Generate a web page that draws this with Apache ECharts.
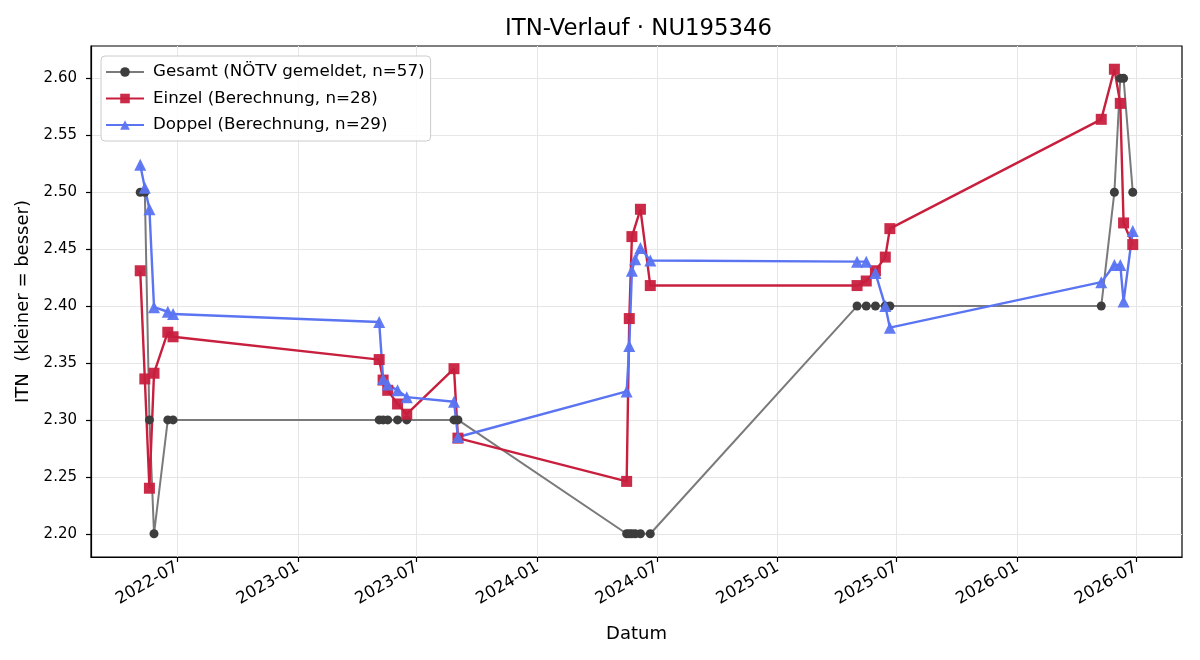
<!DOCTYPE html>
<html>
<head>
<meta charset="utf-8">
<script src="https://cdn.jsdelivr.net/npm/echarts@6/dist/echarts.min.js"></script>
<style>
  html, body { margin: 0; padding: 0; background: #fff; }
  #chart { width: 1200px; height: 660px; }
</style>
</head>
<body>
<div id="chart"></div>
<script>
// match dates (shared by all three series)
const dates = [
  '2022-05-06', '2022-05-13', '2022-05-20', '2022-05-27', '2022-06-17', '2022-06-25',
  '2023-05-05', '2023-05-11', '2023-05-18', '2023-06-02', '2023-06-16', '2023-08-27', '2023-09-02',
  '2024-05-16', '2024-05-20', '2024-05-24', '2024-05-29', '2024-06-06', '2024-06-21',
  '2025-05-02', '2025-05-16', '2025-05-30', '2025-06-14', '2025-06-21',
  '2026-05-09', '2026-05-29', '2026-06-07', '2026-06-12', '2026-06-26'
]
const gesamt = [
  2.50, 2.50, 2.30, 2.20, 2.30, 2.30,
  2.30, 2.30, 2.30, 2.30, 2.30, 2.30, 2.30,
  2.20, 2.20, 2.20, 2.20, 2.20, 2.20,
  2.40, 2.40, 2.40, 2.40, 2.40,
  2.40, 2.50, 2.60, 2.60, 2.50
]
const einzel = [
  2.431, 2.336, 2.240, 2.341, 2.377, 2.373,
  2.353, 2.335, 2.326, 2.314, 2.305, 2.345, 2.284,
  2.246, 2.389, 2.461, null, 2.485, 2.418,
  2.418, 2.422, 2.431, 2.443, 2.468,
  2.564, 2.608, 2.578, 2.473, 2.454
]
const doppel = [
  2.524, 2.504, 2.485, 2.399, 2.395, 2.393,
  2.386, 2.336, 2.331, 2.326, 2.320, 2.316, 2.285,
  2.325, 2.365, 2.431, 2.441, 2.451, 2.440,
  2.439, 2.439, 2.429, 2.400, 2.381,
  2.421, 2.436, 2.436, 2.404, 2.466
]
const xTicks = ['2022-07-01', '2023-01-01', '2023-07-01', '2024-01-01', '2024-07-01',
  '2025-01-01', '2025-07-01', '2026-01-01', '2026-07-01']
const yTicks = [2.20, 2.25, 2.30, 2.35, 2.40, 2.45, 2.50, 2.55, 2.60]

const FONT = 'DejaVu Sans'

function t(s) {
  const p = s.split('-').map(Number)
  return Date.UTC(p[0], p[1] - 1, p[2])
}
function pairs(vals) {
  return dates.map((d, i) => [t(d), vals[i]]).filter(p => p[1] !== null)
}

const chart = echarts.init(document.getElementById('chart'), null, { renderer: 'canvas' })

chart.setOption({
  animation: false,
  backgroundColor: '#fff',
  textStyle: { fontFamily: FONT, color: '#000' },
  title: {
    text: 'ITN-Verlauf · NU195346',
    left: 500,
    top: 13,
    textStyle: { fontFamily: FONT, fontSize: 22.8, fontWeight: 'normal', color: '#000' }
  },
  grid: {
    left: 91,
    right: 18,
    top: 46,
    bottom: 103,
    show: true,
    borderColor: '#000',
    borderWidth: 1.2
  },
  legend: {
    orient: 'vertical',
    left: 101,
    top: 56,
    padding: [6, 6, 6, 4],
    itemGap: 6.5,
    itemWidth: 38,
    itemHeight: 12,
    backgroundColor: 'rgba(255,255,255,0.85)',
    borderColor: '#cccccc',
    borderWidth: 1,
    borderRadius: 4,
    textStyle: { fontFamily: FONT, fontSize: 16.7, color: '#000', lineHeight: 20, padding: [0, 0, 0, 4] }
  },
  xAxis: {
    // timestamps on a value axis so the half-year ticks can be placed exactly
    type: 'value',
    min: t('2022-02-20'),
    max: t('2026-09-09'),
    name: 'Datum',
    nameLocation: 'middle',
    nameGap: 68,
    nameTextStyle: { fontFamily: FONT, fontSize: 18, color: '#000' },
    axisLine: { show: true, lineStyle: { color: '#000', width: 1.2 } },
    axisTick: {
      show: true,
      length: 5,
      customValues: xTicks.map(t),
      lineStyle: { color: '#000', width: 1.2 }
    },
    axisLabel: {
      customValues: xTicks.map(t),
      rotate: 30,
      margin: 9,
      fontFamily: FONT,
      fontSize: 16.5,
      color: '#000',
      formatter: v => {
        const d = new Date(v)
        return d.getUTCFullYear() + '-' + String(d.getUTCMonth() + 1).padStart(2, '0')
      }
    },
    splitLine: { show: true, lineStyle: { color: '#e6e6e6', width: 1 } }
  },
  yAxis: {
    type: 'value',
    min: 2.1796,
    max: 2.6284,
    name: 'ITN  (kleiner = besser)',
    nameLocation: 'middle',
    nameGap: 58,
    nameTextStyle: { fontFamily: FONT, fontSize: 18, color: '#000' },
    axisLine: { show: true, lineStyle: { color: '#000', width: 1.2 } },
    axisTick: {
      show: true,
      length: 5,
      customValues: yTicks,
      lineStyle: { color: '#000', width: 1.2 }
    },
    axisLabel: {
      customValues: yTicks,
      margin: 14,
      fontFamily: FONT,
      fontSize: 15,
      color: '#000',
      formatter: v => v.toFixed(2)
    },
    splitLine: { show: true, lineStyle: { color: '#e6e6e6', width: 1 } }
  },
  series: [
    {
      name: 'Gesamt (NÖTV gemeldet, n=57)',
      type: 'line',
      data: pairs(gesamt),
      symbol: 'circle',
      symbolSize: 9,
      lineStyle: { color: '#7a7a7a', width: 2 },
      itemStyle: { color: '#3d3d3d' }
    },
    {
      name: 'Einzel (Berechnung, n=28)',
      type: 'line',
      data: pairs(einzel),
      symbol: 'rect',
      symbolSize: 11,
      lineStyle: { color: '#c81f3e', width: 2.4 },
      itemStyle: { color: '#c81f3e', opacity: 0.95 }
    },
    {
      name: 'Doppel (Berechnung, n=29)',
      type: 'line',
      data: pairs(doppel),
      symbol: 'triangle',
      symbolSize: 12,
      lineStyle: { color: '#5a74f2', width: 2.4 },
      itemStyle: { color: '#5a74f2', opacity: 0.95 }
    }
  ]
})
</script>
</body>
</html>
